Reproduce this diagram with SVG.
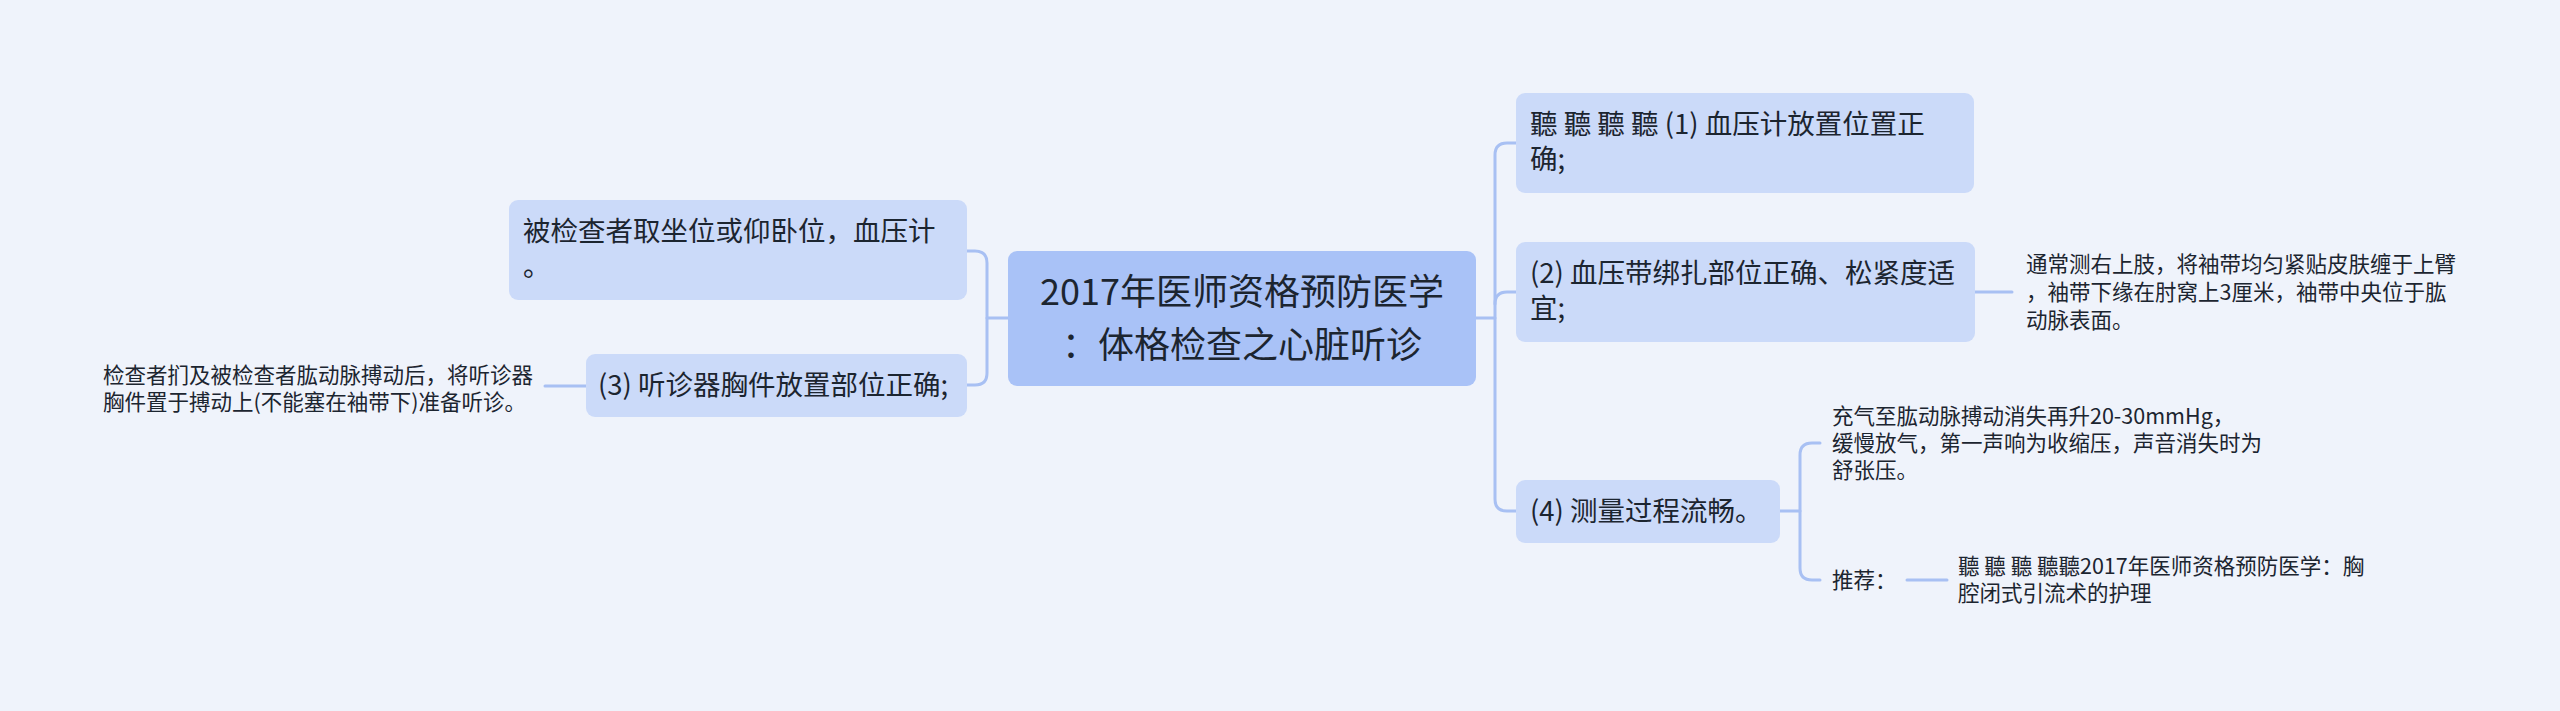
<svg xmlns="http://www.w3.org/2000/svg" width="2560" height="711" viewBox="0 0 2560 711">
<style>
.bg{fill:#eff3fb}
.root{fill:#a9c2f7}
.node{fill:#cbdaf9}
.t{font-family:"Noto Sans CJK SC","Liberation Sans",sans-serif;fill:#1c2530}
.t36{font-size:36px}
.t27{font-size:27.5px}
.t21{font-size:21.5px}
.c{fill:none;stroke:#a8c0f3;stroke-width:3;stroke-linecap:round}
</style>
<rect class="bg" x="0" y="0" width="2560" height="711"/>
<g id="connectors">
<path class="c" d="M1008,318 H987"/>
<path class="c" d="M967,251 H975 Q987,251 987,263 V373 Q987,385 975,385 H967"/>
<path class="c" d="M545,386 H586"/>
<path class="c" d="M1476,318 H1495"/>
<path class="c" d="M1516,143 H1507 Q1495,143 1495,155 V499 Q1495,511 1507,511 H1516"/>
<path class="c" d="M1495,304 Q1495,292 1507,292 H1516"/>
<path class="c" d="M1975,292 H2012"/>
<path class="c" d="M1780,511 H1800"/>
<path class="c" d="M1820,443 H1812 Q1800,443 1800,455 V568 Q1800,580 1812,580 H1820"/>
<path class="c" d="M1907,580 H1947"/>
</g>
<g id="root">
<rect class="root" x="1008" y="251" width="468" height="135" rx="9"/>
<text class="t t36" text-anchor="middle" x="1242" y="305">2017年医师资格预防医学</text>
<text class="t t36" text-anchor="middle" x="1242" y="358">：体格检查之心脏听诊</text>
</g>
<g id="left1">
<rect class="node" x="509" y="200" width="458" height="100" rx="9"/>
<text class="t t27" x="523" y="241">被检查者取坐位或仰卧位，血压计</text>
<text class="t t27" x="523" y="276">。</text>
</g>
<g id="left3">
<rect class="node" x="586" y="354" width="381" height="63" rx="9"/>
<text class="t t27" x="598" y="395">(3) 听诊器胸件放置部位正确;</text>
</g>
<g id="left3leaf">
<text class="t t21" x="103" y="383">检查者扪及被检查者肱动脉搏动后，将听诊器</text>
<text class="t t21" x="103" y="410">胸件置于搏动上(不能塞在袖带下)准备听诊。</text>
</g>
<g id="right1">
<rect class="node" x="1516" y="93" width="458" height="100" rx="9"/>
<text class="t t27" x="1530" y="134">聽 聽 聽 聽 (1) 血压计放置位置正</text>
<text class="t t27" x="1530" y="169">确;</text>
</g>
<g id="right2">
<rect class="node" x="1516" y="242" width="459" height="100" rx="9"/>
<text class="t t27" x="1530" y="283">(2) 血压带绑扎部位正确、松紧度适</text>
<text class="t t27" x="1530" y="318">宜;</text>
</g>
<g id="right2leaf">
<text class="t t21" x="2026" y="272">通常测右上肢，将袖带均匀紧贴皮肤缠于上臂</text>
<text class="t t21" x="2026" y="300">，袖带下缘在肘窝上3厘米，袖带中央位于肱</text>
<text class="t t21" x="2026" y="328">动脉表面。</text>
</g>
<g id="right4">
<rect class="node" x="1516" y="480" width="264" height="63" rx="9"/>
<text class="t t27" x="1530" y="521">(4) 测量过程流畅。</text>
</g>
<g id="right4leaf">
<text class="t t21" x="1832" y="424">充气至肱动脉搏动消失再升20-30mmHg，</text>
<text class="t t21" x="1832" y="451">缓慢放气，第一声响为收缩压，声音消失时为</text>
<text class="t t21" x="1832" y="478">舒张压。</text>
</g>
<g id="recommend">
<text class="t t21" x="1832" y="588">推荐：</text>
</g>
<g id="recommendleaf">
<text class="t t21" x="1958" y="574">聽 聽 聽 聽聽2017年医师资格预防医学：胸</text>
<text class="t t21" x="1958" y="601">腔闭式引流术的护理</text>
</g>
</svg>
